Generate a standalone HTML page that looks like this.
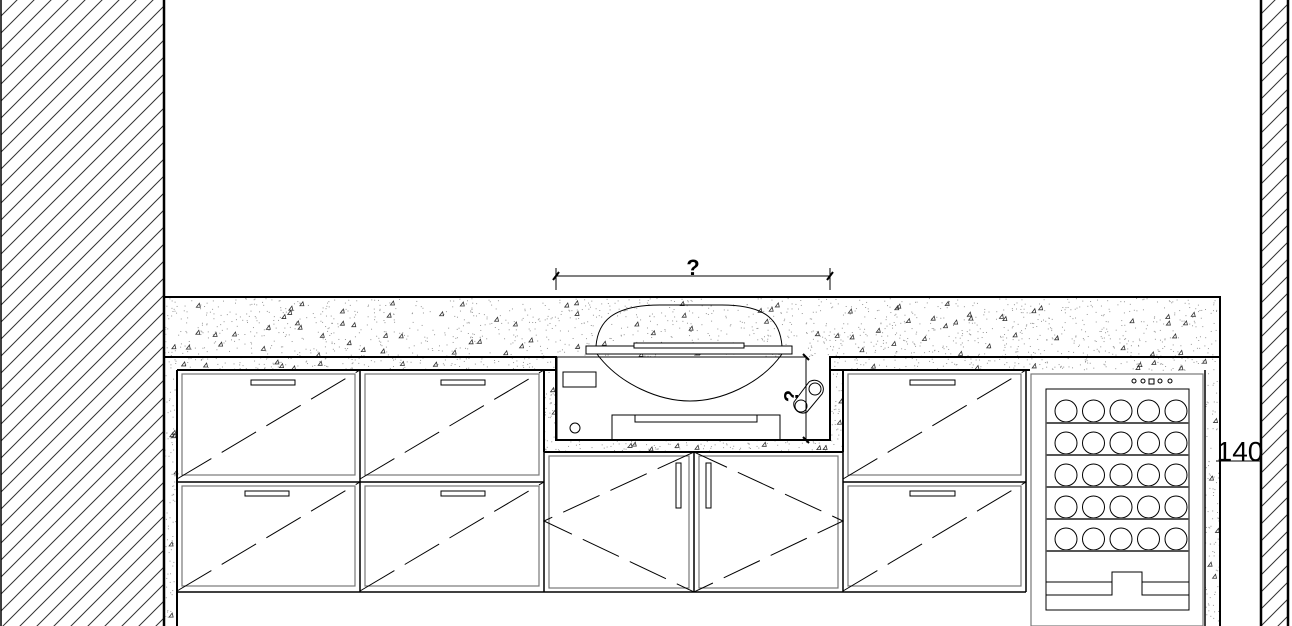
<!DOCTYPE html>
<html><head><meta charset="utf-8"><style>
html,body{margin:0;padding:0;background:#fff;width:1292px;height:626px;overflow:hidden}
svg{display:block}
text{font-family:"Liberation Sans",sans-serif}
</style></head><body>
<svg id="s" width="1292" height="626" viewBox="0 0 1292 626" xmlns="http://www.w3.org/2000/svg">
<defs>
<pattern id="h" patternUnits="userSpaceOnUse" width="17" height="17">
<path d="M-2,19 L19,-2 M-4,4 L4,-4 M13,21 L21,13" stroke="#333" stroke-width="1"/>
</pattern>
</defs>
<rect x="1" y="0" width="163" height="626" fill="url(#h)"/>
<line x1="1" y1="0" x2="1" y2="626" stroke="#000" stroke-width="1.5"/>
<line x1="164" y1="0" x2="164" y2="626" stroke="#000" stroke-width="2.5"/>
<rect x="1262" y="0" width="26" height="626" fill="url(#h)"/>
<line x1="1261" y1="0" x2="1261" y2="626" stroke="#000" stroke-width="2.5"/>
<line x1="1288" y1="0" x2="1288" y2="626" stroke="#000" stroke-width="2.5"/>

<g id="sp"></g>
<g fill="none" stroke="#000">
<path d="M165,297 H1220 V626" stroke-width="2"/>
<path d="M165,357 H556 V440 H830 V357 H1220" stroke-width="2"/>
<path d="M177,370 H556 M830,370 H1030 M177,370 V626" stroke-width="2"/>
<path d="M544,370 V452 M843,370 V452 M544,452 H843" stroke-width="2"/>
<line x1="1205" y1="370" x2="1205" y2="626" stroke-width="1.5"/>
<path d="M177,482 H544 M360,370 V592 M177,592 H1026 M544,452 V592 M694,452 V592 M843,452 V592 M1026,370 V592 M843,482 H1026" stroke-width="1.5"/>
<g stroke="#777" stroke-width="1.2">
<rect x="182" y="374" width="173" height="101"/>
<rect x="365" y="374" width="174" height="101"/>
<rect x="182" y="486" width="173" height="100"/>
<rect x="365" y="486" width="174" height="100"/>
<rect x="848" y="374" width="173" height="101"/>
<rect x="848" y="486" width="173" height="100"/>
<rect x="549" y="456" width="140" height="132"/>
<rect x="699" y="456" width="139" height="132"/>
</g>
<g stroke-width="1" stroke-dasharray="40,12">
<line x1="177" y1="479" x2="360" y2="370"/>
<line x1="360" y1="479" x2="544" y2="370"/>
<line x1="177" y1="591" x2="360" y2="482"/>
<line x1="360" y1="591" x2="544" y2="482"/>
<line x1="843" y1="479" x2="1026" y2="370"/>
<line x1="843" y1="591" x2="1026" y2="482"/>
<path d="M694,452 L544,521 L694,592 L843,521 Z"/>
</g>
<g stroke-width="1">
<rect x="251" y="380" width="44" height="5"/><rect x="441" y="380" width="44" height="5"/>
<rect x="245" y="491" width="44" height="5"/><rect x="441" y="491" width="44" height="5"/>
<rect x="910" y="380" width="45" height="5"/><rect x="910" y="491" width="45" height="5"/>
<rect x="676" y="463" width="5" height="45"/><rect x="706" y="463" width="5" height="45"/>
</g>
<g stroke-width="1">
<path d="M596,346 C598,322 612,305 660,305 L722,305 C768,305 780,322 782,346"/>
<rect x="586" y="346" width="206" height="8" fill="#fff"/>
<rect x="634" y="343" width="110" height="5" fill="#fff"/>
<path d="M597,354 C620,385 660,401 690,401 C720,401 760,385 782,354"/>
<rect x="557" y="357" width="249" height="83"/>
<rect x="563" y="372" width="33" height="15"/>
<circle cx="575" cy="428" r="5"/>
<rect x="612" y="415" width="168" height="25"/>
<rect x="635" y="415" width="122" height="7"/>
<circle cx="815" cy="389" r="6"/><circle cx="801" cy="406" r="6"/>
<path d="M794,402 L809,382 A9,9 0 0 1 822,394 L807,412 A9,9 0 0 1 794,402 Z"/>
<path d="M556,268 V290 M830,268 V290 M556,276 H830"/>
<path d="M553,280 L559,272 M827,280 L833,272" stroke-width="2"/>
<path d="M806,357 V440" />
<path d="M803,354 L809,360 M803,437 L809,443" stroke-width="2"/>
</g>
<rect x="1031" y="374" width="172" height="252" stroke="#777" stroke-width="1.2"/>
<rect x="1046" y="389" width="143" height="221" stroke-width="1"/>
<g stroke-width="1" id="wf"></g>
<path d="M1046,582 H1112 V572 H1142 V582 H1189 M1046,595 H1112 V582 M1142,582 V595 H1189" stroke-width="1"/>
<path d="M1216,461 H1262" stroke-width="1"/>
</g>
<text x="693" y="275" font-size="22" font-weight="bold" text-anchor="middle">?</text>
<text x="800" y="402" font-size="20" font-weight="bold" text-anchor="middle" transform="rotate(-90 796 400)">?</text>
<text x="1240" y="461" font-size="28" text-anchor="middle">140</text>
</svg>
<script>
var ns="http://www.w3.org/2000/svg",sp=document.getElementById('sp'),wf=document.getElementById('wf');
var seed=7;function r(){seed=(seed*16807)%2147483647;return seed/2147483647;}
function add(p,a){var e=document.createElementNS(ns,p);for(var k in a)e.setAttribute(k,a[k]);return e;}
function speck(x,y,w,h,n,t){for(var i=0;i<n;i++){var px=x+r()*w,py=y+r()*h;sp.appendChild(add('rect',{x:px,y:py,width:1,height:1,fill:'#999'}));}
for(var i=0;i<t;i++){var px=x+3+r()*(w-6),py=y+3+r()*(h-6);sp.appendChild(add('path',{d:'M'+px+','+(py+3)+' l3,-4 l1,4 z',fill:'none',stroke:'#333','stroke-width':0.8}));}}
speck(165,298,1055,59,1400,90);speck(165,357,391,13,160,8);speck(830,357,390,13,160,8);
speck(165,370,12,256,80,6);speck(544,440,299,12,120,8);speck(1205,370,15,256,90,5);speck(544,370,12,70,30,2);speck(831,370,12,70,30,2);
for(var row=0;row<5;row++){var y=419+row*32;for(var c=0;c<5;c++){wf.appendChild(add('circle',{cx:1066+c*27.5,cy:y-8,r:11}));}
wf.appendChild(add('line',{x1:1046,y1:y+4,x2:1189,y2:y+4,stroke:'#555','stroke-width':2}));}
[1134,1143,1160,1170].forEach(function(x){wf.appendChild(add('circle',{cx:x,cy:381,r:2}));});
wf.appendChild(add('rect',{x:1149,y:379,width:5,height:5}));
</script>
</body></html>
